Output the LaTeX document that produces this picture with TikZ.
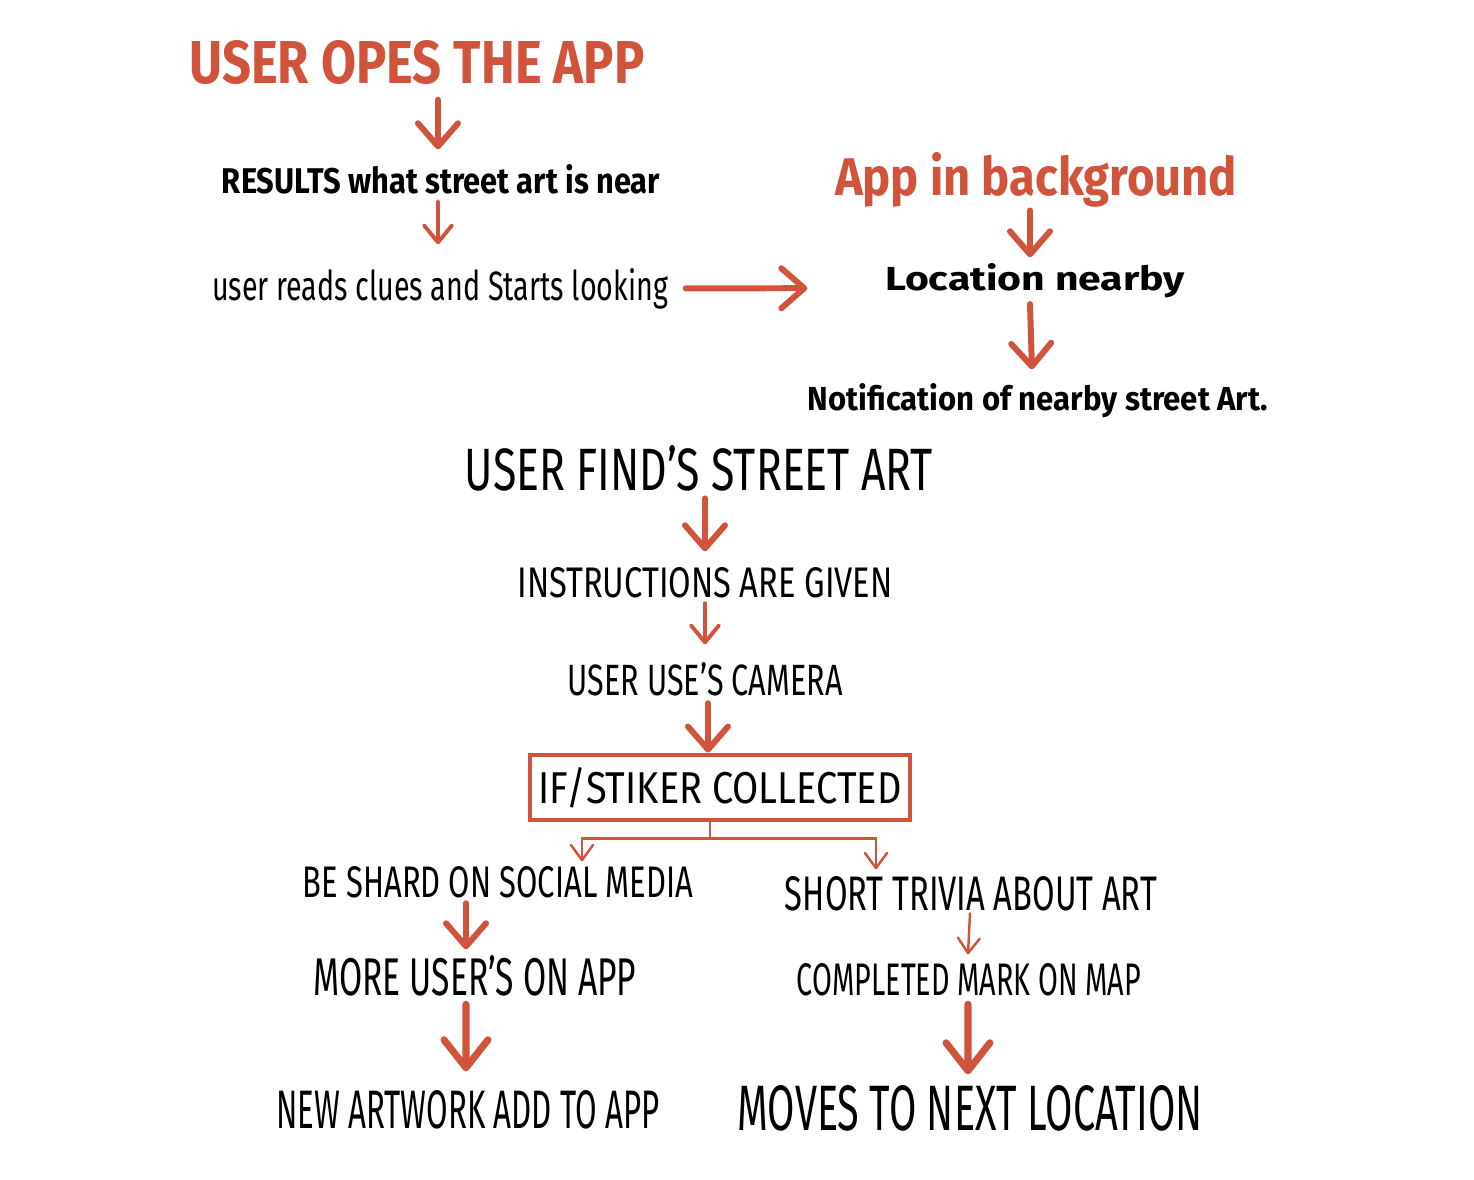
\documentclass[tikz,border=0pt]{standalone}
\usepackage{fontspec}
\setmainfont{Fira Sans}
\usepackage{graphicx}
\usetikzlibrary{arrows.meta}

\newcommand{\handtext}[3]{\resizebox{#1cm}{#2cm}{#3}}

\begin{document}
\begin{tikzpicture}
  % Hand-drawn flow: app opened (left), app in background (right), then collection.
  \definecolor{sketchred}{HTML}{D0533B}
  \useasboundingbox (0,0) rectangle (14.74,-11.80);
  \tikzset{
    txt/.style={inner sep=0pt, anchor=base, text=black},
    boldtxt/.style={txt, font=\bfseries},
    redtxt/.style={boldtxt, text=sketchred},
    bigflow/.style={draw=sketchred, line width=2pt, line cap=round,
      -{Straight Barb[length=2.8mm,width=4.4mm,round]}},
    flow/.style={draw=sketchred, line width=1.7pt, line cap=round,
      -{Straight Barb[length=2.3mm,width=4mm,round]}},
    smallflow/.style={draw=sketchred, line width=1.1pt, line cap=round,
      -{Straight Barb[length=1.7mm,width=2.8mm,round]}},
    thinflow/.style={draw=sketchred, line width=0.7pt, line cap=round,
      -{Straight Barb[length=1.5mm,width=2.2mm,round]}},
    stickerbox/.style={draw=sketchred, line width=1.4pt, inner sep=0pt,
      minimum width=3.8cm, minimum height=0.65cm}
  }

  % Opening the app.
  \node[redtxt] (open) at (4.17,-0.83) {\handtext{4.55}{0.43}{USER OPES THE APP}};
  \node[boldtxt] (results) at (4.41,-1.93) {\handtext{4.38}{0.29}{RESULTS what street art is near}};
  \node[txt] (reads) at (4.40,-3.00) {\handtext{4.56}{0.32}{user reads clues and Starts looking}};

  % App running in the background.
  \node[redtxt] (background) at (10.36,-1.95) {\handtext{4.02}{0.43}{App in background}};
  \node[boldtxt] (location) at (10.35,-2.90) {\handtext{3.00}{0.27}{Location nearby}};
  \node[boldtxt] (notify) at (10.38,-4.10) {\handtext{4.60}{0.27}{Notification of nearby street Art.}};

  % Finding the art.
  \node[txt] (finds) at (6.99,-4.90) {\handtext{4.68}{0.45}{USER FIND'S STREET ART}};
  \node[txt] (instruct) at (7.05,-5.97) {\handtext{3.75}{0.30}{INSTRUCTIONS ARE GIVEN}};
  \node[txt] (camera) at (7.05,-6.95) {\handtext{2.75}{0.33}{USER USE'S CAMERA}};
  \node[stickerbox] (sticker) at (7.20,-7.875) {\handtext{3.63}{0.36}{IF/STIKER COLLECTED}};

  % Two branches below the box.
  \node[txt] (social) at (4.98,-8.97) {\handtext{3.90}{0.31}{BE SHARD ON SOCIAL MEDIA}};
  \node[txt] (trivia) at (9.71,-9.10) {\handtext{3.72}{0.34}{SHORT TRIVIA ABOUT ART}};
  \node[txt] (moreusers) at (4.75,-9.95) {\handtext{3.23}{0.40}{MORE USER'S ON APP}};
  \node[txt] (completed) at (9.69,-9.95) {\handtext{3.44}{0.32}{COMPLETED MARK ON MAP}};
  \node[txt] (artwork) at (4.68,-11.28) {\handtext{3.83}{0.38}{NEW ARTWORK ADD TO APP}};
  \node[txt] (moves) at (9.70,-11.30) {\handtext{4.65}{0.45}{MOVES TO NEXT LOCATION}};

  % Connectors.
  \draw[flow] ([xshift=2.1mm,yshift=-1.5mm]open.south) -- ([xshift=-0.3mm,yshift=1.4mm]results.north);
  \draw[smallflow] ([xshift=-0.3mm,yshift=-0.7mm]results.south) -- ([xshift=-0.2mm,yshift=2.3mm]reads.north);
  \draw[flow] ([xshift=1.7mm]reads.east) -- ([xshift=-7.7mm,yshift=-0.8mm]location.west);
  \draw[flow] ([xshift=-0.6mm,yshift=-0.3mm]background.south) -- ([xshift=-0.5mm,yshift=0.5mm]location.north);
  \draw[flow] ([xshift=-0.5mm,yshift=-0.6mm]location.south) -- ([xshift=-0.6mm,yshift=1.3mm]notify.north);
  \draw[flow] ([xshift=0.6mm,yshift=-0.7mm]finds.south) -- ([yshift=1.5mm]instruct.north);
  \draw[smallflow] ([yshift=-0.5mm]instruct.south) -- ([yshift=1.7mm]camera.north);
  \draw[flow] ([xshift=0.3mm,yshift=-0.7mm]camera.south) -- ([xshift=-1.2mm]sticker.north);
  \draw[thinflow] ([xshift=-1mm]sticker.south) -- ++(0,-0.16) -| ([xshift=8.4mm,yshift=0.4mm]social.north);
  \draw[thinflow] ([xshift=-1mm,yshift=-1.6mm]sticker.south) -| ([xshift=-9.5mm,yshift=0.6mm]trivia.north);
  \draw[flow] ([xshift=-3.2mm,yshift=-0.5mm]social.south) -- ([xshift=-0.9mm,yshift=0.5mm]moreusers.north);
  \draw[thinflow] ([xshift=-0.1mm,yshift=-0.2mm]trivia.south) -- ([xshift=-0.1mm,yshift=0.8mm]completed.north);
  \draw[bigflow] ([xshift=-0.9mm,yshift=-0.8mm]moreusers.south) -- ([xshift=-0.2mm,yshift=1.8mm]artwork.north);
  \draw[bigflow] ([xshift=-0.1mm,yshift=-0.8mm]completed.south) -- ([xshift=-0.2mm,yshift=1.0mm]moves.north);
\end{tikzpicture}
\end{document}
